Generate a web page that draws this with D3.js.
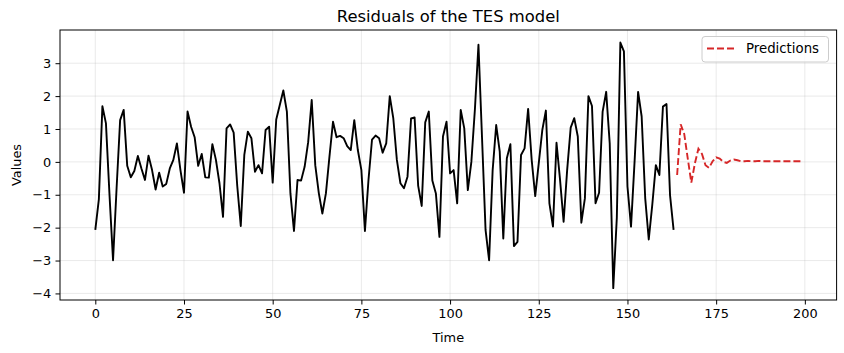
<!DOCTYPE html>
<html>
<head>
<meta charset="utf-8">
<script src="https://cdn.jsdelivr.net/npm/d3@7"></script>
<style>
  body { margin: 0; background: #fff; }
  svg { display: block; }
  text { font-family: "DejaVu Sans", sans-serif; }
</style>
</head>
<body>
<svg id="chart" width="844" height="353"></svg>
<script>
// Residuals (time 0..163)
const residuals = [
  -2.07, -1.14, 1.69, 1.17, -1.0, -2.99, -0.8, 1.27, 1.58, -0.12,
  -0.47, -0.28, 0.18, -0.2, -0.55, 0.19, -0.25, -0.84, -0.33, -0.75,
  -0.67, -0.2, 0.06, 0.56, -0.25, -0.94, 1.53, 1.07, 0.75, -0.12,
  0.24, -0.47, -0.48, 0.54, 0.06, -0.65, -1.67, 1.02, 1.14, 0.89,
  -0.72, -1.95, 0.21, 0.92, 0.72, -0.3, -0.1, -0.35, 0.97, 1.07,
  -0.63, 1.29, 1.73, 2.17, 1.53, -0.96, -2.1, -0.55, -0.57, -0.15,
  0.6, 1.88, -0.1, -0.95, -1.57, -0.96, 0.16, 1.22, 0.75, 0.79,
  0.72, 0.48, 0.36, 1.27, 0.36, -0.25, -2.1, -0.55, 0.68, 0.8,
  0.72, 0.28, 0.56, 2.0, 1.32, 0.06, -0.65, -0.8, -0.45, 1.32,
  1.35, -0.72, -1.34, 1.2, 1.53, -0.57, -0.96, -2.28, 0.77, 1.22,
  -0.35, -0.25, -1.26, 1.58, 1.02, -0.86, 0.0, 1.6, 3.56, 0.75,
  -2.07, -2.99, -0.25, 1.12, 0.31, -2.33, 0.11, 0.54, -2.56, -2.43,
  0.21, 0.41, 1.61, 0.06, -1.04, -0.04, 0.97, 1.56, -1.26, -1.97,
  0.58, -0.55, -1.82, -0.25, 1.04, 1.33, 0.77, -1.85, -1.11, 2.0,
  1.7, -1.26, -0.94, 1.53, 2.13, 0.56, -3.84, -1.7, 3.63, 3.36,
  -0.75, -1.97, 0.0, 2.13, 1.38, -1.1, -2.36, -1.3, -0.1, -0.4,
  1.68, 1.76, -1.01, -2.07
];
const residualStart = 0;

// Predictions (time 164..199)
const predictions = [
  -0.4, 1.14, 0.85, 0.1, -0.63, -0.05, 0.4, 0.24, -0.1, -0.18,
  0.02, 0.14, 0.1, 0.0, -0.03, 0.04, 0.07, 0.05, 0.02, 0.02,
  0.03, 0.02, 0.02, 0.03, 0.02, 0.02, 0.02, 0.02, 0.02, 0.02,
  0.02, 0.02, 0.02, 0.02, 0.02, 0.02
];
const predictionStart = 164;

const xTicks = [0, 25, 50, 75, 100, 125, 150, 175, 200];
const yTicks = [-4, -3, -2, -1, 0, 1, 2, 3];

const titleText = "Residuals of the TES model";
const xLabel = "Time";
const yLabel = "Values";
const legendLabel = "Predictions";

const svg = d3.select("#chart");
const L = 60, R = 836.6, T = 30, B = 300;

const x = d3.scaleLinear().domain([-9.95, 208.95]).range([L, R]);
const y = d3.scaleLinear().domain([-4.2, 4.01]).range([B, T]);

const fmt = v => (v < 0 ? "\u2212" + Math.abs(v) : String(v));

// grid
const grid = svg.append("g").attr("stroke", "#b0b0b0").attr("stroke-opacity", 0.3).attr("stroke-width", 0.9);
xTicks.forEach(t => grid.append("line").attr("x1", x(t)).attr("x2", x(t)).attr("y1", T).attr("y2", B));
yTicks.forEach(t => grid.append("line").attr("x1", L).attr("x2", R).attr("y1", y(t)).attr("y2", y(t)));

// lines
const resData = residuals.map((v, i) => [residualStart + i, v]);
const predData = predictions.map((v, i) => [predictionStart + i, v]);
const line = d3.line().x(d => x(d[0])).y(d => y(d[1]));

svg.append("path").datum(resData).attr("d", line)
  .attr("fill", "none").attr("stroke", "#000").attr("stroke-width", 1.9)
  .attr("stroke-linejoin", "round");
svg.append("path").datum(predData).attr("d", line)
  .attr("fill", "none").attr("stroke", "#d62728").attr("stroke-width", 1.9)
  .attr("stroke-dasharray", "7,3");

// axes
const xAxis = d3.axisBottom(x).tickValues(xTicks).tickSize(4.5).tickPadding(4.2).tickFormat(fmt);
const yAxis = d3.axisLeft(y).tickValues(yTicks).tickSize(4.5).tickPadding(4.2).tickFormat(fmt);

const gx = svg.append("g").attr("transform", `translate(0,${B})`).call(xAxis);
const gy = svg.append("g").attr("transform", `translate(${L},0)`).call(yAxis);
[gx, gy].forEach(g => {
  g.select(".domain").remove();
  g.selectAll(".tick line").attr("stroke", "#000").attr("stroke-width", 1);
  g.selectAll(".tick text").attr("fill", "#000").style("font-size", "12.9px")
    .style("font-family", "DejaVu Sans, sans-serif");
});

// frame
svg.append("rect").attr("x", L).attr("y", T).attr("width", R - L).attr("height", B - T)
  .attr("fill", "none").attr("stroke", "#000").attr("stroke-width", 1);

// title & labels
svg.append("text").attr("x", (L + R) / 2).attr("y", 22).attr("text-anchor", "middle")
  .style("font-size", "16.4px").text(titleText);
svg.append("text").attr("x", (L + R) / 2).attr("y", 342).attr("text-anchor", "middle")
  .style("font-size", "12.9px").text(xLabel);
svg.append("text").attr("transform", `translate(21,${(T + B) / 2}) rotate(-90)`)
  .attr("text-anchor", "middle").style("font-size", "12.9px").text(yLabel);

// legend
const lg = svg.append("g");
lg.append("rect").attr("x", 702).attr("y", 36.5).attr("width", 126.5).attr("height", 25.5)
  .attr("rx", 3).attr("fill", "#fff").attr("fill-opacity", 0.8)
  .attr("stroke", "#cccccc").attr("stroke-width", 1);
lg.append("line").attr("x1", 707).attr("x2", 735).attr("y1", 48.5).attr("y2", 48.5)
  .attr("stroke", "#d62728").attr("stroke-width", 1.9).attr("stroke-dasharray", "7,3");
lg.append("text").attr("x", 746).attr("y", 53.3).style("font-size", "13.3px").text(legendLabel);
</script>
</body>
</html>
